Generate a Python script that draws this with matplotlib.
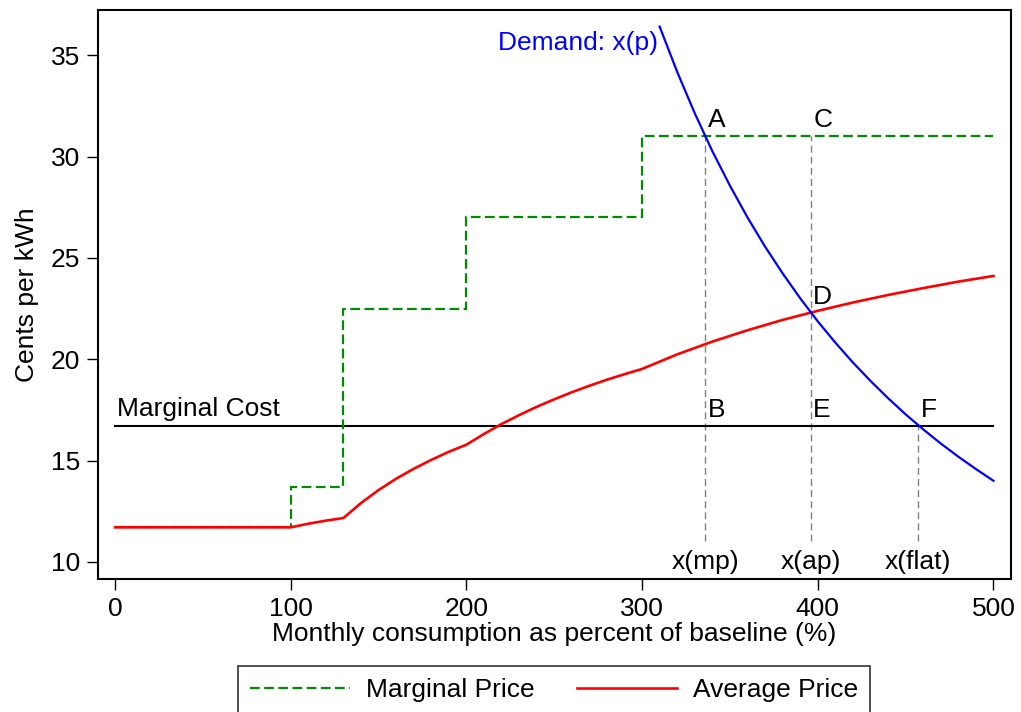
"""Increasing block pricing: marginal vs average price and demand."""
import matplotlib

matplotlib.use("Agg")
import matplotlib.pyplot as plt

# marginal price tiers (cents per kWh) between consumption breakpoints (% of baseline)
tier_edges = [0, 100, 130, 200, 300, 500]
tier_prices = [11.7, 13.7, 22.5, 27.0, 31.0]

# average price
avg_x = [0, 100, 110, 120, 130, 140, 150, 160, 170, 180, 190, 200, 210, 220, 230,
         240, 250, 260, 270, 280, 290, 300, 320, 340, 360, 380, 400, 420, 440,
         460, 480, 500]
avg_y = [11.70, 11.70, 11.88, 12.03, 12.16, 12.90, 13.54, 14.10, 14.59, 15.03,
         15.43, 15.78, 16.31, 16.80, 17.24, 17.65, 18.02, 18.37, 18.69, 18.99,
         19.26, 19.52, 20.24, 20.87, 21.43, 21.94, 22.39, 22.80, 23.17, 23.51,
         23.83, 24.11]

# demand curve x(p)
demand_x = [310, 320, 330, 340, 350, 360, 370, 380, 390, 400, 410, 420, 430, 440,
            450, 460, 470, 480, 490, 500]
demand_y = [36.42, 34.18, 32.14, 30.27, 28.57, 27.00, 25.56, 24.24, 23.01, 21.87,
            20.82, 19.84, 18.93, 18.08, 17.28, 16.54, 15.84, 15.19, 14.58, 14.00]

marginal_cost = 16.7

# quantities at the intersections and their point labels
q_labels = ["x(mp)", "x(ap)", "x(flat)"]
q_values = [336, 396, 457]
q_tops = [31.0, 31.0, 16.7]
pt_names = ["A", "C", "D", "B", "E", "F"]
pt_x = [336, 396, 396, 336, 396, 457]
pt_y = [31.0, 31.0, 22.3, 16.7, 16.7, 16.7]

plt.rcParams.update({
    "font.family": ["Liberation Sans", "DejaVu Sans"],
    "font.size": 19,
    "lines.scale_dashes": False,
})

fig = plt.figure(figsize=(10.21, 7.12), dpi=100)
ax = fig.add_axes([98 / 1021, 1 - 579 / 712, 913 / 1021, 569 / 712])

green = "#008c00"
ax.axhline(marginal_cost, xmin=(0 + 9.7) / 519.7, xmax=(500 + 9.7) / 519.7,
           color="black", lw=1.5, zorder=2)
ax.text(1, marginal_cost + 0.25, "Marginal Cost", ha="left", va="bottom")

for q, top, lab in zip(q_values, q_tops, q_labels):
    ax.plot([q, q], [11.05, top], color="#808080", lw=1.0, dashes=(5, 3), zorder=1)
    ax.text(q, 10.0, lab, ha="center", va="center")

ax.stairs(tier_prices, tier_edges, baseline=None, color=green, lw=1.6,
          linestyle=(0, (7, 3.2)), zorder=3, label="Marginal Price")
ax.plot(avg_x, avg_y, color="red", lw=1.9, zorder=4, label="Average Price")
ax.plot(demand_x, demand_y, color="blue", lw=1.6, zorder=5)
ax.text(309, 35.6, "Demand: x(p)", color="blue", ha="right", va="center")

for name, px, py in zip(pt_names, pt_x, pt_y):
    ax.text(px + 1.5, py + 0.2, name, ha="left", va="bottom")

ax.set_xlim(-9.7, 510)
ax.set_ylim(9.15, 37.24)
ax.set_xticks([0, 100, 200, 300, 400, 500])
ax.set_yticks([10, 15, 20, 25, 30, 35])
ax.tick_params(direction="out", length=8, width=1.0, pad=5)
for s in ax.spines.values():
    s.set_linewidth(1.5)
ax.set_xlabel("Monthly consumption as percent of baseline (%)", labelpad=1)
ax.set_ylabel("Cents per kWh", labelpad=8)

handles, labels = ax.get_legend_handles_labels()
leg = fig.legend(handles, labels, loc="upper center", bbox_to_anchor=(554 / 1021, 1 - 666 / 712),
                 ncol=2, frameon=True, fancybox=False, edgecolor="black",
                 handlelength=3.8, handletextpad=0.6, columnspacing=1.6,
                 borderpad=0.45, borderaxespad=0)
leg.get_frame().set_linewidth(1.2)

fig.savefig("out.png", dpi=100)
